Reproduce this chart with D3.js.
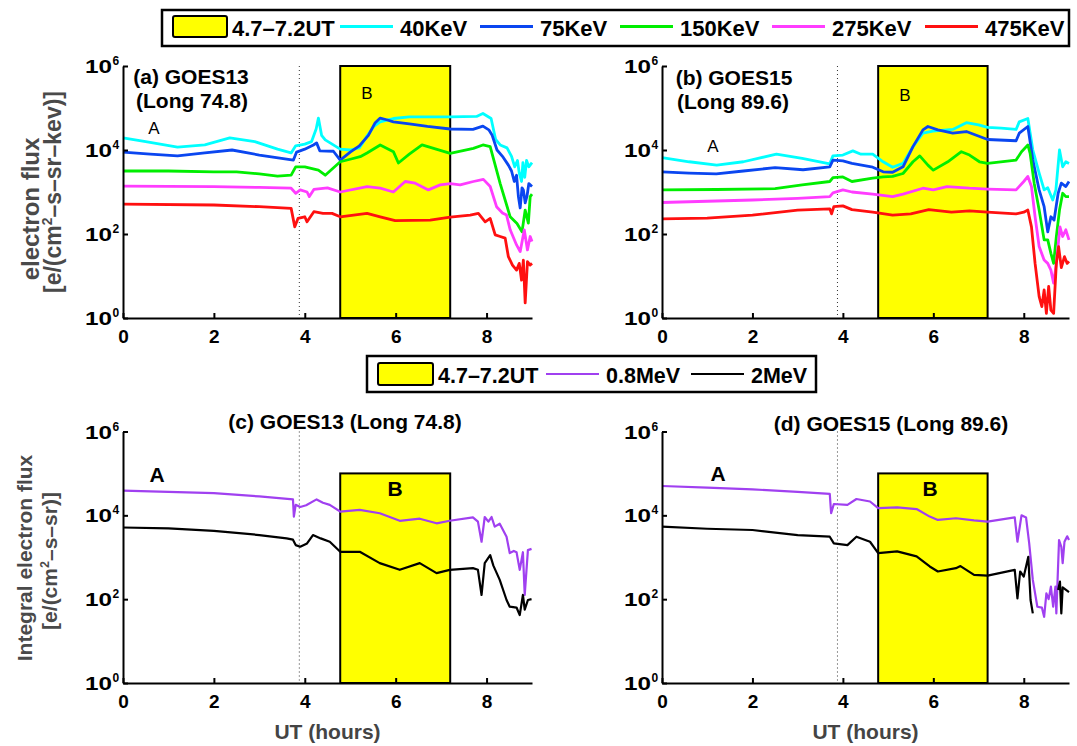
<!DOCTYPE html>
<html>
<head>
<meta charset="utf-8">
<script src="https://cdn.jsdelivr.net/npm/d3@7"></script>
<style>
  body { margin: 0; background: #fff; }
  text { font-family: "Liberation Sans", Arial, Helvetica, sans-serif; }
</style>
</head>
<body>
<svg id="chart" width="1077" height="746"></svg>
<script>
// ---- data (UT hours / log10 flux) ----
const eventStart = 4.78, eventEnd = 7.2;   // yellow "B" window
const onsetHour = 3.88;                     // dotted line
const xTicks = [0, 2, 4, 6, 8];
const yExponents = [0, 2, 4, 6];

const energyLabels = ["40KeV", "75KeV", "150KeV", "275KeV", "475KeV"];
const energyColors = ["#00ffff", "#0a46f0", "#00ee00", "#ff3cff", "#ff1010"];
const integralLabels = ["0.8MeV", "2MeV"];
const integralColors = ["#a040f0", "#000000"];

// (a) GOES13 differential flux
const a40_t = [0, 0.5, 1.2, 1.8, 2.35, 2.9, 3.4, 3.7, 3.8, 4.0, 4.15, 4.25, 4.3, 4.37, 4.45, 4.78, 5.0, 5.2, 5.35, 5.52, 5.66, 5.95, 6.3, 7.2, 7.78, 7.92, 8.1, 8.2, 8.3, 8.45, 8.55, 8.62, 8.68, 8.72, 8.77, 8.8, 8.84, 8.88, 8.93, 9.0];
const a40_v = [4.29, 4.2, 4.07, 4.12, 4.29, 4.2, 4.02, 3.93, 4.1, 4.14, 4.2, 4.5, 4.76, 4.35, 4.24, 4.02, 4.0, 4.05, 4.3, 4.56, 4.67, 4.75, 4.79, 4.79, 4.8, 4.87, 4.75, 4.25, 4.12, 4.05, 3.85, 3.6, 3.75, 3.45, 3.25, 3.7, 3.35, 3.75, 3.6, 3.7];
const a75_t = [0, 0.6, 1.2, 1.8, 2.4, 3.0, 3.75, 3.82, 4.0, 4.19, 4.26, 4.33, 4.63, 4.78, 5.0, 5.2, 5.4, 5.55, 5.66, 5.8, 5.95, 6.3, 6.7, 7.2, 7.7, 7.92, 8.05, 8.12, 8.23, 8.35, 8.48, 8.55, 8.61, 8.66, 8.7, 8.74, 8.78, 8.81, 8.85, 8.89, 8.93, 8.96, 9.0];
const a75_v = [3.95, 3.9, 3.86, 3.93, 4.0, 3.88, 3.76, 3.95, 4.02, 4.12, 4.17, 3.98, 3.97, 3.76, 3.95, 4.1, 4.35, 4.65, 4.76, 4.72, 4.67, 4.62, 4.56, 4.5, 4.49, 4.57, 4.48, 4.36, 4.0, 3.85, 3.64, 3.5, 3.25, 3.4, 2.9, 2.62, 3.1, 3.05, 2.74, 2.9, 3.2, 3.17, 3.13];
const a150_t = [0, 1, 2, 2.5, 3.0, 3.4, 3.7, 3.8, 4.0, 4.3, 4.45, 4.78, 5.0, 5.22, 5.37, 5.66, 5.95, 6.06, 6.3, 6.58, 7.2, 7.71, 7.92, 8.08, 8.3, 8.52, 8.67, 8.78, 8.85, 8.92, 8.96, 9.0];
const a150_v = [3.5, 3.5, 3.48, 3.48, 3.43, 3.38, 3.4, 3.6, 3.6, 3.52, 3.4, 3.72, 3.78, 3.84, 3.93, 4.12, 3.96, 3.69, 3.9, 4.12, 3.92, 4.04, 4.12, 4.08, 3.2, 2.41, 2.25, 2.05, 2.57, 2.26, 2.89, 2.95];
const a275_t = [0, 2, 3, 3.7, 3.8, 3.9, 4.05, 4.1, 4.2, 4.5, 4.78, 5.37, 5.66, 5.95, 6.21, 6.43, 6.72, 6.98, 7.2, 7.42, 7.71, 7.93, 8.08, 8.22, 8.35, 8.44, 8.52, 8.66, 8.74, 8.83, 8.9, 8.96, 9.0];
const a275_v = [3.14, 3.13, 3.11, 3.09, 2.97, 3.05, 3.0, 2.89, 3.06, 3.1, 3.0, 3.13, 3.09, 3.0, 3.25, 3.21, 3.05, 3.17, 3.2, 3.17, 3.25, 3.3, 3.13, 2.65, 2.5, 2.45, 2.1, 1.74, 1.58, 2.1, 1.62, 1.94, 1.82];
const a475_t = [0, 2, 3, 3.7, 3.78, 3.85, 4.0, 4.05, 4.2, 4.4, 4.6, 4.78, 5.37, 5.66, 5.99, 6.76, 7.2, 7.64, 7.82, 7.97, 8.08, 8.19, 8.3, 8.41, 8.48, 8.57, 8.66, 8.72, 8.77, 8.81, 8.85, 8.9, 8.96, 9.0];
const a475_v = [2.71, 2.69, 2.65, 2.61, 2.17, 2.37, 2.41, 2.29, 2.53, 2.49, 2.49, 2.41, 2.49, 2.41, 2.32, 2.33, 2.4, 2.45, 2.49, 2.29, 2.37, 1.98, 1.94, 1.9, 1.46, 1.26, 1.14, 1.3, 0.9, 1.38, 0.36, 1.34, 1.26, 1.3];

// (b) GOES15 differential flux
const b40_t = [0, 0.6, 1.21, 1.8, 2.53, 3.1, 3.71, 3.78, 4.0, 4.22, 4.4, 4.66, 4.89, 5.1, 5.33, 5.55, 5.77, 5.99, 6.43, 6.73, 7.0, 7.2, 7.5, 7.83, 7.9, 8.09, 8.2, 8.34, 8.45, 8.53, 8.64, 8.71, 8.79, 8.86, 8.93, 9.0];
const b40_v = [3.82, 3.72, 3.64, 3.72, 3.9, 3.8, 3.67, 3.86, 3.88, 3.98, 3.9, 3.9, 3.72, 3.59, 3.68, 4.08, 4.4, 4.45, 4.49, 4.65, 4.6, 4.54, 4.52, 4.49, 4.67, 4.75, 4.0, 3.45, 3.05, 3.1, 2.81, 3.05, 4.0, 3.6, 3.72, 3.68];
const b75_t = [0, 0.6, 1.2, 1.8, 2.5, 3.12, 3.71, 3.78, 4.0, 4.2, 4.66, 4.89, 5.1, 5.33, 5.55, 5.77, 5.88, 6.1, 6.43, 6.73, 7.2, 7.83, 7.9, 8.09, 8.2, 8.34, 8.45, 8.53, 8.6, 8.67, 8.76, 8.83, 8.93, 9.0];
const b75_v = [3.48, 3.45, 3.43, 3.5, 3.58, 3.53, 3.6, 3.76, 3.74, 3.68, 3.59, 3.48, 3.47, 3.6, 4.08, 4.48, 4.56, 4.48, 4.4, 4.44, 4.25, 4.22, 4.4, 4.56, 3.76, 3.05, 2.65, 2.05, 2.41, 2.33, 2.97, 3.21, 3.13, 3.25];
const b150_t = [0, 1.2, 2.5, 3.1, 3.71, 3.78, 4.0, 4.2, 4.66, 4.89, 5.1, 5.33, 5.55, 5.7, 5.88, 6.0, 6.32, 6.62, 6.8, 7.02, 7.2, 7.83, 7.95, 8.09, 8.14, 8.23, 8.34, 8.45, 8.53, 8.6, 8.66, 8.72, 8.79, 8.86, 8.93, 9.0];
const b150_v = [3.05, 3.06, 3.08, 3.17, 3.25, 3.34, 3.36, 3.25, 3.33, 3.36, 3.37, 3.44, 3.72, 3.86, 3.64, 3.52, 3.72, 3.96, 3.88, 3.72, 3.68, 3.76, 3.96, 4.12, 3.92, 3.21, 2.57, 1.86, 1.86, 1.54, 1.3, 1.94, 2.57, 2.97, 2.89, 2.89];
const b275_t = [0, 1, 2, 3, 3.71, 3.78, 4.0, 4.2, 4.66, 5.1, 5.33, 5.77, 6.0, 6.3, 6.8, 7.2, 7.83, 8.0, 8.09, 8.17, 8.25, 8.34, 8.45, 8.53, 8.6, 8.66, 8.72, 8.8, 8.86, 8.93, 9.0];
const b275_v = [2.75, 2.78, 2.81, 2.85, 2.89, 2.98, 3.05, 3.0, 2.95, 2.89, 2.95, 3.09, 3.05, 3.13, 3.09, 3.07, 3.05, 3.25, 3.37, 3.13, 2.41, 1.7, 1.38, 1.3, 1.14, 0.83, 1.3, 2.17, 1.94, 2.1, 1.86];
const b475_t = [0, 1, 2, 3, 3.71, 3.75, 3.8, 4.0, 4.2, 4.66, 5.1, 5.5, 5.9, 6.4, 6.8, 7.2, 7.83, 8.0, 8.09, 8.17, 8.25, 8.34, 8.4, 8.45, 8.5, 8.55, 8.6, 8.66, 8.72, 8.77, 8.83, 8.9, 8.96, 9.0];
const b475_v = [2.36, 2.38, 2.45, 2.57, 2.6, 2.48, 2.65, 2.67, 2.58, 2.52, 2.45, 2.48, 2.58, 2.52, 2.55, 2.52, 2.48, 2.52, 2.57, 2.17, 1.3, 0.51, 0.27, 0.67, 0.11, 0.75, 0.19, 0.11, 1.3, 1.7, 1.2, 1.46, 1.3, 1.35];

// (c) GOES13 integral flux
const c08_t = [0, 1, 2, 3, 3.74, 3.76, 3.8, 3.9, 4.03, 4.26, 4.4, 4.55, 4.78, 5.21, 5.65, 6.09, 6.53, 6.9, 7.19, 7.7, 7.81, 7.89, 7.96, 8.04, 8.11, 8.18, 8.29, 8.44, 8.51, 8.6, 8.66, 8.73, 8.8, 8.84, 8.91, 8.99];
const c08_v = [4.59, 4.56, 4.53, 4.45, 4.38, 3.97, 4.25, 4.2, 4.24, 4.38, 4.3, 4.25, 4.09, 4.13, 4.05, 3.87, 3.92, 3.81, 3.87, 3.95, 3.85, 3.37, 3.96, 3.85, 3.96, 3.73, 3.8, 3.49, 3.1, 3.15, 3.12, 2.7, 3.12, 2.1, 3.17, 3.2];
const c2_t = [0, 1, 2, 3, 3.6, 3.74, 3.8, 3.9, 4.05, 4.18, 4.35, 4.55, 4.78, 5.21, 5.65, 6.09, 6.53, 6.9, 7.19, 7.7, 7.81, 7.89, 7.96, 8.08, 8.15, 8.29, 8.44, 8.51, 8.66, 8.73, 8.8, 8.84, 8.91, 8.99];
const c2_v = [3.71, 3.69, 3.63, 3.53, 3.45, 3.42, 3.29, 3.25, 3.33, 3.53, 3.45, 3.37, 3.13, 3.13, 2.86, 2.7, 2.86, 2.62, 2.7, 2.74, 2.7, 2.1, 2.86, 3.05, 2.8, 2.46, 1.98, 1.82, 1.8, 1.62, 2.1, 1.75, 1.98, 2.0];

// (d) GOES15 integral flux
const d08_t = [0, 1, 2, 3, 3.71, 3.74, 3.8, 4.1, 4.3, 4.6, 4.78, 5.2, 5.63, 5.92, 6.1, 6.5, 6.9, 7.2, 7.8, 7.86, 7.95, 8.05, 8.12, 8.2, 8.3, 8.4, 8.45, 8.5, 8.55, 8.6, 8.65, 8.7, 8.72, 8.78, 8.83, 8.86, 8.9, 8.96, 9.0];
const d08_v = [4.7, 4.66, 4.62, 4.56, 4.51, 4.05, 4.27, 4.25, 4.39, 4.33, 4.17, 4.19, 4.15, 3.97, 3.89, 3.93, 3.88, 3.85, 3.95, 3.37, 4.0, 3.95, 3.33, 2.46, 1.82, 1.8, 1.58, 2.14, 2.0, 2.3, 1.82, 2.3, 1.66, 3.41, 3.25, 2.86, 3.37, 3.5, 3.41];
const d2_t = [0, 1, 2, 3, 3.71, 3.8, 4.1, 4.3, 4.6, 4.78, 5.2, 5.63, 5.92, 6.1, 6.5, 6.6, 6.9, 7.2, 7.8, 7.86, 7.92, 8.0, 8.1, 8.15, 8.2, 8.5, 8.76, 8.8, 8.83, 8.86, 9.0];
const d2_v = [3.73, 3.68, 3.65, 3.53, 3.49, 3.33, 3.29, 3.49, 3.37, 3.1, 3.14, 3.02, 2.78, 2.66, 2.74, 2.79, 2.58, 2.56, 2.7, 2.02, 2.66, 2.54, 3.01, 1.98, 1.66, null, 2.22, 2.42, 1.66, 2.28, 2.17];

// ---- layout ----
const svg = d3.select('svg#chart');
const font = '"Liberation Sans", Arial, sans-serif';

const panels = [
  { left: 123, right: 532, top: 66, bottom: 318, boxTop: 1e6, width: 2.8,
    series: [[a40_t, a40_v], [a75_t, a75_v], [a150_t, a150_v], [a275_t, a275_v], [a475_t, a475_v]], colors: energyColors },
  { left: 662, right: 1069, top: 66, bottom: 318, boxTop: 1e6, width: 2.8,
    series: [[b40_t, b40_v], [b75_t, b75_v], [b150_t, b150_v], [b275_t, b275_v], [b475_t, b475_v]], colors: energyColors },
  { left: 123, right: 532, top: 431.5, bottom: 683, boxTop: 1e5, width: 2.2,
    series: [[c08_t, c08_v], [c2_t, c2_v]], colors: integralColors },
  { left: 662, right: 1069, top: 431.5, bottom: 683, boxTop: 1e5, width: 2.2,
    series: [[d08_t, d08_v], [d2_t, d2_v]], colors: integralColors },
];

function drawPanel(p) {
  const x = d3.scaleLinear().domain([0, 9]).range([p.left, p.right]);
  const y = d3.scaleLog().domain([1, 1e6]).range([p.bottom, p.top]);
  const g = svg.append('g');

  // shaded interval B
  g.append('rect')
    .attr('x', x(eventStart)).attr('y', y(p.boxTop))
    .attr('width', x(eventEnd) - x(eventStart)).attr('height', y(1) - y(p.boxTop))
    .attr('fill', '#ffff00').attr('stroke', '#000').attr('stroke-width', 2);

  // dotted onset line
  g.append('line')
    .attr('x1', x(onsetHour)).attr('x2', x(onsetHour))
    .attr('y1', p.top).attr('y2', p.bottom)
    .attr('stroke', '#333').attr('stroke-width', 1).attr('stroke-dasharray', '1,3');

  const line = d3.line()
    .defined(d => d[1] !== null)
    .x(d => x(d[0]))
    .y(d => y(Math.pow(10, d[1])));

  p.series.forEach((s, i) => {
    g.append('path')
      .datum(d3.zip(s[0], s[1]))
      .attr('d', line)
      .attr('fill', 'none')
      .attr('stroke', p.colors[i])
      .attr('stroke-width', p.width)
      .attr('stroke-linejoin', 'round');
  });

  // axes (MATLAB style: inward ticks, no box)
  const xa = g.append('g').attr('transform', `translate(0,${p.bottom})`)
    .call(d3.axisBottom(x).tickValues(xTicks).tickSizeInner(-5).tickSizeOuter(0).tickPadding(12).tickFormat(d3.format('d')));
  const ya = g.append('g').attr('transform', `translate(${p.left},0)`)
    .call(d3.axisLeft(y).tickValues(yExponents.map(e => Math.pow(10, e))).tickSizeInner(-5).tickSizeOuter(0).tickFormat(''));
  [xa, ya].forEach(a => {
    a.select('.domain').attr('stroke', '#000').attr('stroke-width', 2);
    a.selectAll('.tick line').attr('stroke', '#000').attr('stroke-width', 2);
  });
  xa.selectAll('.tick text')
    .attr('font-family', font).attr('font-size', 19).attr('font-weight', 'bold').attr('fill', '#000');

  // 10^n tick labels
  yExponents.forEach(e => {
    const yy = y(Math.pow(10, e));
    g.append('text').attr('x', p.left - 11).attr('y', yy + 7)
      .attr('text-anchor', 'end').attr('font-size', 18).attr('font-weight', 'bold')
      .attr('textLength', 27).attr('lengthAdjust', 'spacingAndGlyphs')
      .text('10');
    g.append('text').attr('x', p.left - 10.5).attr('y', yy - 1)
      .attr('font-size', 12).attr('font-weight', 'bold')
      .text(e);
  });
  return { x, y, g };
}

const P = panels.map(drawPanel);

// ---- panel annotations ----
function label(x, y, str, size, weight, anchor) {
  return svg.append('text').attr('x', x).attr('y', y)
    .attr('font-size', size).attr('font-weight', weight || 'bold')
    .attr('text-anchor', anchor || 'middle').text(str);
}
label(191, 84, '(a) GOES13', 21);
label(192, 108, '(Long 74.8)', 21);
label(734, 85, '(b) GOES15', 21);
label(733, 109, '(Long 89.6)', 21);
label(154, 134, 'A', 17, 'normal');
label(367, 99, 'B', 17, 'normal');
label(713, 152, 'A', 17, 'normal');
label(905, 101, 'B', 17, 'normal');

label(345, 429, '(c) GOES13 (Long 74.8)', 21);
label(891, 431, '(d) GOES15 (Long 89.6)', 21);
label(157, 482, 'A', 21);
label(395, 496, 'B', 21);
label(718, 481, 'A', 21);
label(930, 496, 'B', 21);

// x axis titles
['UT (hours)', 'UT (hours)'].forEach((t, i) => {
  const p = panels[i + 2];
  label((p.left + p.right) / 2, 739, t, 21).attr('fill', '#444');
});

// y axis titles
function yTitle(cx, cy, size, parts) {
  const t = svg.append('text')
    .attr('transform', `translate(${cx},${cy}) rotate(-90)`)
    .attr('text-anchor', 'middle').attr('font-size', size).attr('font-weight', 'bold')
    .attr('fill', '#4a4a4a');
  parts.forEach(pt => {
    t.append('tspan').attr('font-size', pt.sup ? size * 0.6 : size)
      .attr('dy', pt.dy || 0).text(pt.s);
  });
  return t;
}
yTitle(39, 209, 24, [{ s: 'electron flux' }]);
yTitle(61, 192, 23, [{ s: '[e/(cm' }, { s: '2', sup: true, dy: -9 }, { s: '–s–sr–kev)]', dy: 9 }]);
yTitle(32, 558, 21, [{ s: 'Integral electron flux' }]);
yTitle(57, 561, 21, [{ s: '[e/(cm' }, { s: '2', sup: true, dy: -8 }, { s: '–s–sr)]', dy: 8 }]);

// ---- legends ----
function legend(box, swatch, textY, size, items) {
  const g = svg.append('g');
  g.append('rect').attr('x', box[0]).attr('y', box[1]).attr('width', box[2]).attr('height', box[3])
    .attr('fill', '#fff').attr('stroke', '#000').attr('stroke-width', 2.5);
  g.append('rect').attr('x', swatch[0]).attr('y', swatch[1]).attr('width', swatch[2]).attr('height', swatch[3])
    .attr('fill', '#ffff00').attr('stroke', '#000').attr('stroke-width', 2).attr('rx', 2);
  g.append('text').attr('x', swatch[0] + swatch[2] + 5).attr('y', textY)
    .attr('font-size', size).attr('font-weight', 'bold').text('4.7–7.2UT');
  const lineY = swatch[1] + swatch[3] / 2;
  items.forEach(it => {
    g.append('line').attr('x1', it.x).attr('x2', it.x + 53).attr('y1', lineY).attr('y2', lineY)
      .attr('stroke', it.color).attr('stroke-width', it.w);
    g.append('text').attr('x', it.x + 60).attr('y', textY)
      .attr('font-size', size).attr('font-weight', 'bold').text(it.label);
  });
}
const legend1X = [340, 480, 620, 772, 925];
legend([162, 10, 907, 36], [173, 16, 54, 21], 36, 22,
  energyLabels.map((l, i) => ({ x: legend1X[i], label: l, color: energyColors[i], w: 2.8 })));
const legend2X = [546, 691];
legend([367, 356, 449, 36], [378, 363, 55, 22], 383, 21.5,
  integralLabels.map((l, i) => ({ x: legend2X[i], label: l, color: integralColors[i], w: 2.2 })));
</script>
</body>
</html>
